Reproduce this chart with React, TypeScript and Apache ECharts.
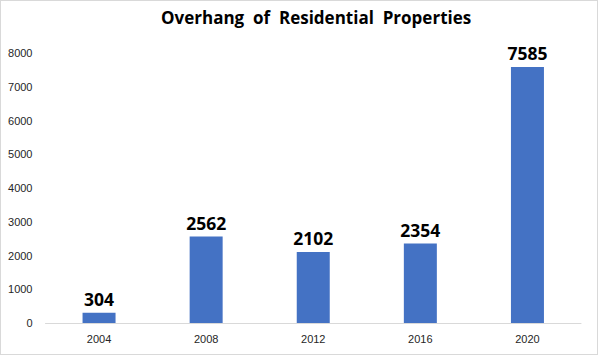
import React, { useEffect, useRef } from "react";
import * as echarts from "echarts";

const categories = ["2004", "2008", "2012", "2016", "2020"];
const values = [304, 2562, 2102, 2354, 7585];
const yTicks = [0, 1000, 2000, 3000, 4000, 5000, 6000, 7000, 8000];

export default function App() {
  const ref = useRef<HTMLDivElement>(null);
  useEffect(() => {
    document.body.style.margin = "0";
    const chart = echarts.init(ref.current!, null, { renderer: "svg" });
    chart.setOption({
      animation: false,
      backgroundColor: "#ffffff",
      title: {
        text: "Overhang  of  Residential  Properties",
        left: 155,
        top: 3,
        textStyle: {
          fontFamily: "Open Sans",
          fontWeight: "bold",
          fontSize: 17,
          color: "#000000",
        },
      },
      grid: { left: 44.5, right: 16, top: 52, bottom: 31, containLabel: false },
      xAxis: {
        type: "category",
        data: categories,
        axisLine: { lineStyle: { color: "#d9d9d9", width: 1 } },
        axisTick: { show: false },
        axisLabel: { color: "#262626", fontSize: 11, fontFamily: "Liberation Sans", margin: 10 },
      },
      yAxis: {
        type: "value",
        min: yTicks[0],
        max: yTicks[yTicks.length - 1],
        interval: 1000,
        splitLine: { show: false },
        axisLine: { show: false },
        axisTick: { show: false },
        axisLabel: {
          color: "#262626",
          fontSize: 11,
          fontFamily: "Liberation Sans",
          margin: 13,
          formatter: (v: number) => String(v),
        },
      },
      series: [
        {
          type: "bar",
          data: values,
          barWidth: 33,
          itemStyle: { color: "#4472c4" },
          label: {
            show: true,
            position: "top",
            distance: 5,
            color: "#000000",
            fontWeight: "bold",
            fontSize: 17.5,
            fontFamily: "Open Sans",
          },
        },
      ],
    });
    return () => chart.dispose();
  }, []);
  return (
    <div
      style={{
        width: 598,
        height: 355,
        boxSizing: "border-box",
        border: "1px solid #d9d9d9",
        position: "relative",
      }}
    >
      <div ref={ref} style={{ width: 596, height: 353 }} />
    </div>
  );
}
